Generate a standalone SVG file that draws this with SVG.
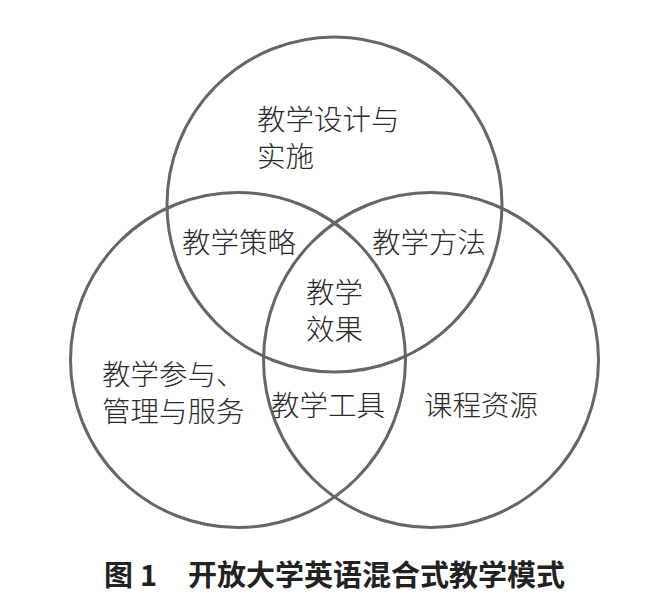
<svg xmlns="http://www.w3.org/2000/svg" width="648" height="607" viewBox="0 0 648 607">
<style>
.c{fill:none;stroke:#666;stroke-width:3}
.t{font-family:"Noto Sans CJK SC","Liberation Serif",sans-serif;font-size:28.5px;fill:#2a2a2a;font-weight:300}
.title{font-family:"Noto Sans CJK SC","Liberation Sans",sans-serif;font-size:29px;font-weight:bold;fill:#222}
</style>
<rect width="648" height="607" fill="#fff"/>
<g id="circle-top"><circle class="c" cx="334.5" cy="204.5" r="167.5"/></g>
<g id="circle-left"><circle class="c" cx="238" cy="360" r="167.5"/></g>
<g id="circle-right"><circle class="c" cx="431" cy="360" r="167.5"/></g>
<g id="connectors"></g>
<g id="design"><text class="t" x="257" y="130">教学设计与</text><text class="t" x="257" y="167">实施</text></g>
<g id="strategy"><text class="t" x="182" y="253">教学策略</text></g>
<g id="method"><text class="t" x="372" y="253">教学方法</text></g>
<g id="effect"><text class="t" x="306" y="303">教学</text><text class="t" x="306" y="340">效果</text></g>
<g id="participation"><text class="t" x="102" y="385">教学参与、</text><text class="t" x="102" y="422">管理与服务</text></g>
<g id="tools"><text class="t" x="271" y="416">教学工具</text></g>
<g id="resources"><text class="t" x="424" y="416">课程资源</text></g>
<g id="caption"><text class="title" x="104" y="586">图</text><text class="title" x="140" y="586" font-family="Liberation Sans,sans-serif">1</text><text class="title" x="188" y="586">开放大学英语混合式教学模式</text></g>
</svg>
